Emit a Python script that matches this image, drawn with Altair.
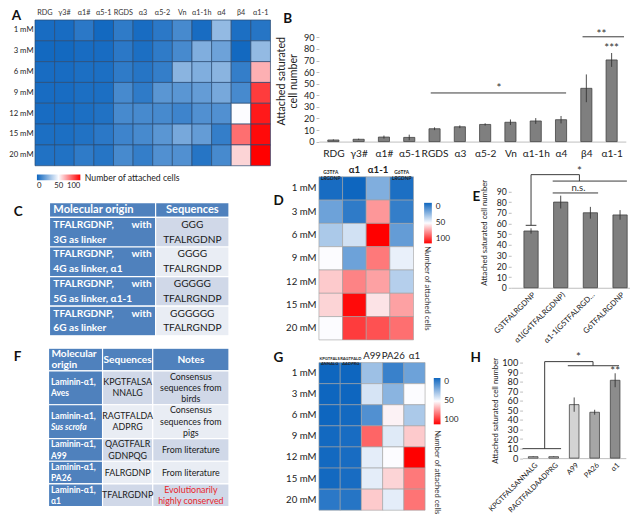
import altair as alt
import pandas as pd

K = 0.965
FONT = "Lato"


def s(v):
    return round(v * K, 2)


# ----------------------------------------------------------------- data
CONC = ["1 mM", "3 mM", "6 mM", "9 mM", "12 mM", "15 mM", "20 mM"]
LEGEND_TITLE = "Number of attached cells"
Y_TITLE = "Attached saturated cell number"

A_COLS = ["RDG", "γ3#", "α1#", "α5-1", "RGDS", "α3", "α5-2", "Vn", "α1-1h", "α4", "β4", "α1-1"]
A_VALUES = [
    [2, 2, 6, 1, 7, 2, 6, 12, 2, 28, 3, 5],
    [1, 1, 2, 2, 6, 3, 7, 12, 24, 20, 1, 28],
    [2, 2, 3, 3, 7, 5, 8, 26, 24, 26, 8, 65],
    [2, 2, 3, 3, 12, 7, 16, 16, 18, 22, 12, 88],
    [2, 2, 3, 4, 12, 12, 12, 10, 14, 14, 50, 95],
    [3, 3, 4, 6, 10, 12, 16, 22, 18, 8, 78, 98],
    [4, 4, 7, 5, 12, 8, 14, 14, 5, 12, 58, 100],
]

B_NAMES = ["RDG", "γ3#", "α1#", "α5-1", "RGDS", "α3", "α5-2", "Vn", "α1-1h", "α4", "β4", "α1-1"]
B_MEANS = [1.4, 2.0, 3.9, 3.6, 11.1, 12.8, 14.8, 16.7, 17.8, 18.9, 46.0, 70.5]
B_ERRS = [0.5, 0.5, 1.3, 2.4, 1.2, 1.2, 1.0, 2.4, 2.5, 3.2, 12.0, 6.0]
B_BRACKETS = [(3.85, 9.2, 42, 42), (9.85, 11.49, 90.5, 90.5)]
B_SIGNS = [(6.55, 48.2, "*"), (10.6, 94.7, "**"), (11.0, 82.2, "***")]

C_HEADER = ["Molecular origin", "Sequences"]
C_ORIGIN = [
    ("TFALRGDNP,", "with", "3G as linker"),
    ("TFALRGDNP,", "with", "4G as linker, α1"),
    ("TFALRGDNP,", "with", "5G as linker, α1-1"),
    ("TFALRGDNP,", "with", "6G as linker"),
]
C_SEQ = [["GGG", "TFALRGDNP"], ["GGGG", "TFALRGNDP"], ["GGGGG", "TFALRGNDP"], ["GGGGGG", "TFALRGNDP"]]

D_COLS = ["G3TFA LRGDNP", "α1", "α1-1", "G6TFA LRGDNP"]
D_VALUES = [
    [2, 0, 24, 3],
    [20, 7, 70, 8],
    [33, 41, 100, 18],
    [50, 20, 76, 46],
    [60, 74, 68, 35],
    [58, 98, 55, 68],
    [50, 88, 84, 78],
]

E_NAMES = ["G3TFALRGDNP", "α1(G4TFALRGDNP)", "α1-1(G5TFALRGDNP)", "G6TFALRGDNP"]
E_MEANS = [53, 80, 70, 68]
E_ERRS = [2.5, 6, 5.5, 4.5]
E_BRACKETS = [
    (-0.18, 0.18, 58.3, 58.3),
    (0, 0, 58.3, 105.6),
    (0, 1.63, 105.6, 105.6),
    (1.63, 1.63, 105.6, 99.6),
    (0.73, 3.23, 99.6, 99.6),
    (0.73, 2.26, 88.5, 88.5),
]
E_SIGNS = [(1.63, 111, "*"), (1.6, 93.6, "n.s.")]

F_HEADER = [["Molecular", "origin"], ["Sequences"], ["Notes"]]
F_ORIGIN = [["Laminin-α1,", "Aves"], ["Laminin-α1,", "Sus scrofa"], ["Laminin-α1,", "A99"],
            ["Laminin-α1,", "PA26"], ["Laminin-α1,", "α1"]]
F_SEQ = [["KPGTFALSA", "NNALG"], ["RAGTFALDA", "ADPRG"], ["QAGTFALR", "GDNPQG"], ["FALRGDNP"], ["TFALRGDNP"]]
F_NOTES = [["Consensus", "sequences from", "birds"], ["Consensus", "sequences from", "pigs"],
           ["From literature"], ["From literature"], ["Evolutionarily", "highly conserved"]]
F_ITALIC = ["Sus scrofa"]
F_HIGHLIGHT = [False, False, False, False, True]

G_COLS = ["KPGTFALS ANNALG", "RAGTFALD AADPRG", "A99", "PA26", "α1"]
G_VALUES = [
    [0, 0, 30, 9, 20],
    [0, 0, 42, 26, 50],
    [0, 1, 14, 52, 33],
    [1, 2, 80, 44, 60],
    [1, 2, 45, 50, 100],
    [1, 2, 45, 58, 76],
    [6, 5, 60, 45, 77],
]

H_NAMES = ["KPGTFALSANNALG", "RAGTFALDAADPRG", "A99", "PA26", "α1"]
H_MEANS = [1.5, 1.5, 56, 48, 81.5]
H_ERRS = [0.3, 0.3, 7.5, 2.6, 7.3]
H_BRACKETS = [
    (-0.52, 1.36, 9.9, 9.9),
    (0.56, 0.56, 9.9, 101),
    (0.56, 2.92, 101, 101),
    (2.92, 2.92, 101, 96.7),
    (1.69, 4.19, 96.7, 96.7),
]
H_SIGNS = [(2.21, 108, "*"), (4, 93.4, "**")]

# ----------------------------------------------------------------- styles
HEAT_BLUE, HEAT_WHITE, HEAT_RED = "#0E66BF", "#FCFCFF", "#FF0000"
HEAT_H = alt.Scale(domain=[0, 50, 100], range=[HEAT_BLUE, HEAT_WHITE, HEAT_RED], interpolate="rgb")
HEAT_V = alt.Scale(domain=[100, 50, 0], range=[HEAT_RED, HEAT_WHITE, HEAT_BLUE], interpolate="rgb")
TABLE_BLUE = "#4F81BD"
TABLE_ROWS = ["#D0D8E8", "#E9EDF4"]
BAR_GREY = "#7F7F7F"
H_FILLS = ["#BFBFBF", "#BFBFBF", "#D3D3D3", "#A6A6A6", "#8C8C8C"]
AXIS_GREY = "#BFBFBF"
INK = "#222222"


def letter(t, dx, dy):
    return alt.TitleParams(text=t, anchor="start", frame="group", orient="top", dx=s(dx), dy=s(dy),
                           offset=0, baseline="top", fontSize=s(14), fontWeight="bold",
                           color="#111111", font=FONT)


# ----------------------------------------------------------------- heatmaps
def heatmap(cols, values, w, h, stroke, sw, ylab, ypad, top_axis, scale, legend, title, extra=None):
    df = pd.DataFrame([{"row": r, "col": c, "v": values[i][j]}
                       for i, r in enumerate(CONC) for j, c in enumerate(cols)])
    rect = alt.Chart(df).mark_rect(stroke=stroke, strokeWidth=sw).encode(
        x=alt.X("col:N", sort=cols, title=None, axis=top_axis),
        y=alt.Y("row:N", sort=CONC, title=None,
                axis=alt.Axis(labelFontSize=s(ylab), labelColor=INK, labelPadding=s(ypad),
                              ticks=False, domain=False)),
        color=alt.Color("v:Q", scale=scale, legend=legend),
    )
    return alt.layer(rect, *(extra or [])).properties(width=s(w), height=s(h), title=title)


def vertical_title(x, y):
    return alt.Chart(pd.DataFrame({"t": [LEGEND_TITLE]})).mark_text(
        angle=90, align="left", baseline="middle", fontSize=s(8), color="#333333"
    ).encode(text="t:N", x=alt.value(s(x)), y=alt.value(s(y)))


def small_cols_axis(bold_big, small):
    test = "indexof(datum.value, ' ') >= 0"
    return alt.Axis(
        orient="top", labelAngle=0, labelExpr="split(datum.label, ' ')",
        labelFontSize={"condition": {"test": test, "value": s(small)}, "value": s(10)},
        labelFontWeight={"condition": {"test": test, "value": "bold"},
                         "value": "bold" if bold_big else "normal"},
        labelLineHeight=s(small + 0.6), labelPadding=s(2), ticks=False, domain=False,
        labelColor=INK,
    )


def vlegend(x, y, length, thick):
    return alt.Legend(orient="none", legendX=s(x), legendY=s(y), direction="vertical",
                      gradientLength=s(length), gradientThickness=s(thick), values=[0, 50, 100],
                      labelFontSize=s(8.5), labelColor=INK, title=None, labelOffset=s(4),
                      labelBaseline="middle", gradientStrokeWidth=0)


A = heatmap(
    A_COLS, A_VALUES, 244, 151, "#2A4B73", 0.7, 8, 2,
    alt.Axis(orient="top", labelAngle=0, labelFontSize=s(7.5), labelColor="#333333",
             ticks=False, domain=False, labelPadding=s(4)),
    HEAT_H,
    alt.Legend(orient="none", legendX=s(2), legendY=s(160), direction="horizontal",
               gradientLength=s(45), gradientThickness=s(6), values=[0, 50, 100],
               labelFontSize=s(8), labelColor=INK, title=LEGEND_TITLE, titleOrient="right",
               titleFontSize=s(9), titleFontWeight="normal", titleColor=INK, titleAnchor="start",
               titleBaseline="top", titlePadding=s(5), labelOffset=s(2), gradientStrokeWidth=0),
    letter("A", -24, 15),
)

D = heatmap(D_COLS, D_VALUES, 98, 169, "#A0A0A0", 0.6, 10, 3, small_cols_axis(True, 5), HEAT_V,
            vlegend(109, 27, 42, 8), letter("D", -47, 43.7), [vertical_title(112, 72)])

G = heatmap(G_COLS, G_VALUES, 110, 153, "#A0A0A0", 0.6, 10, 3, small_cols_axis(False, 4.3), HEAT_V,
            vlegend(119, 16, 48, 7), letter("G", -47, 14.7), [vertical_title(122, 70)])


# ----------------------------------------------------------------- bar charts
def bar_panel(names, means, errs, fills, xdom, ydom, yvals, w, h, half, ytitle, yt_size, yt_pad,
              ylab, xlab, xangle, xlimit, xpad, brackets, signs, title):
    n = len(names)
    df = pd.DataFrame({"i": list(range(n)), "v": means, "e": errs, "fill": fills})
    df["x0"] = df["i"] - half
    df["x1"] = df["i"] + half
    df["lo"] = df["v"] - df["e"]
    df["hi"] = df["v"] + df["e"]
    df["base"] = 0.0
    xs = alt.Scale(domain=xdom, nice=False, zero=False)
    ys = alt.Scale(domain=ydom, nice=False, zero=False)
    expr = "[" + ", ".join("'" + t + "'" for t in names) + "][datum.value]"
    xaxis = alt.Axis(values=list(range(n)), labelExpr=expr, grid=False, ticks=False,
                     domainColor=AXIS_GREY, labelColor=INK, labelFontSize=s(xlab), labelAngle=xangle,
                     labelPadding=s(xpad), labelFlush=False, labelOverlap=False, labelLimit=s(xlimit))
    yaxis = alt.Axis(values=yvals, grid=False, domain=False, tickColor=AXIS_GREY,
                     tickSize=s(3), labelColor=INK, labelFontSize=s(ylab), labelPadding=s(2),
                     labelFlush=False, labelOverlap=False, titleFontSize=s(yt_size),
                     titleFontWeight="normal", titleColor=INK, titlePadding=s(yt_pad))

    def X(field):
        return alt.X(field, scale=xs, axis=xaxis, title=None)

    def Y(field):
        return alt.Y(field, scale=ys, axis=yaxis, title=ytitle)

    bars = alt.Chart(df).mark_bar(stroke="#404040", strokeWidth=s(0.8)).encode(
        x=X("x0:Q"), x2="x1:Q", y=Y("v:Q"), y2="base:Q", fill=alt.Fill("fill:N", scale=None))
    err = alt.Chart(df).mark_rule(color="#333333", strokeWidth=s(0.9)).encode(
        x=X("i:Q"), y=Y("lo:Q"), y2="hi:Q")
    bdf = pd.DataFrame(brackets, columns=["x", "x2", "y", "y2"])
    br = alt.Chart(bdf).mark_rule(color="#333333", strokeWidth=s(1)).encode(
        x=X("x:Q"), x2="x2:Q", y=Y("y:Q"), y2="y2:Q")
    sdf = pd.DataFrame(signs, columns=["x", "y", "t"])
    stars = sdf[sdf["t"].str.startswith("*")]
    words = sdf[~sdf["t"].str.startswith("*")]
    layers = [bars, err, br]
    if len(stars):
        layers.append(alt.Chart(stars).mark_text(fontSize=s(12), color="#333333", baseline="middle",
                                                 dy=s(3)).encode(x=X("x:Q"), y=Y("y:Q"), text="t:N"))
    if len(words):
        layers.append(alt.Chart(words).mark_text(fontSize=s(10), color="#333333",
                                                 baseline="middle").encode(
            x=X("x:Q"), y=Y("y:Q"), text="t:N"))
    return alt.layer(*layers).properties(width=s(w), height=s(h), title=title)


B = bar_panel(B_NAMES, B_MEANS, B_ERRS, [BAR_GREY] * 12, [-0.57, 11.56], [0, 105],
              list(range(0, 91, 10)), 318, 126, 0.22, ["Attached saturated", "cell number"],
              11, 5, 9.5, 10.5, 0, 100, 7, B_BRACKETS, B_SIGNS, letter("B", -37, 5.2))

E = bar_panel(E_NAMES, E_MEANS, E_ERRS, [BAR_GREY] * 4, [-0.67, 3.33], [0, 103.6],
              list(range(0, 91, 10)), 123, 115, 0.24, Y_TITLE, 8, 8, 9, 8, -45, 76, 3,
              E_BRACKETS, E_SIGNS, letter("E", -40, 39.5))

H = bar_panel(H_NAMES, H_MEANS, H_ERRS, H_FILLS, [-0.52, 4.52], [0, 100],
              list(range(0, 101, 10)), 107, 99, 0.235, Y_TITLE, 8, 2, 9.5, 7.6, -45, 72, 3,
              H_BRACKETS, H_SIGNS, letter("H", -54, 13.2))


# ----------------------------------------------------------------- tables
def line_ys(top, row_lines, n):
    return [top + (row_lines - n) / 2 + i + 0.5 for i in range(n)]


def table_chart(cells, texts, xdom, total_lines, w, h, styles, title):
    xs = alt.Scale(domain=xdom, nice=False, zero=False)
    ys = alt.Scale(domain=[0, total_lines], nice=False, zero=False, reverse=True)
    rect = alt.Chart(cells).mark_rect(stroke="white", strokeWidth=s(1.2)).encode(
        x=alt.X("x0:Q", scale=xs, axis=None), x2="x1:Q",
        y=alt.Y("y0:Q", scale=ys, axis=None), y2="y1:Q",
        fill=alt.Fill("fill:N", scale=None))
    layers = [rect]
    for sty, kw in styles.items():
        sub = texts[texts["sty"] == sty]
        if len(sub) == 0:
            continue
        layers.append(alt.Chart(sub).mark_text(baseline="middle", **kw).encode(
            x=alt.X("x:Q", scale=xs, axis=None), y=alt.Y("y:Q", scale=ys, axis=None), text="t:N"))
    return alt.layer(*layers).properties(width=s(w), height=s(h), title=title)


def cum(vals):
    out = [0]
    for v in vals:
        out.append(out[-1] + v)
    return out


# table C
C_COL_W = [110, 76]
C_ROW_LINES = [1, 2, 2, 2, 2]
cx = cum(C_COL_W)
cy = cum(C_ROW_LINES)
c_cells, c_texts = [], []
for r in range(len(C_ROW_LINES)):
    for c in range(2):
        fill = TABLE_BLUE if (r == 0 or c == 0) else TABLE_ROWS[(r - 1) % 2]
        c_cells.append({"x0": cx[c], "x1": cx[c + 1], "y0": cy[r], "y1": cy[r + 1], "fill": fill})
c_texts.append({"x": cx[0], "y": line_ys(0, 1, 1)[0], "t": C_HEADER[0], "sty": "hl"})
c_texts.append({"x": (cx[1] + cx[2]) / 2, "y": line_ys(0, 1, 1)[0], "t": C_HEADER[1], "sty": "hc"})
for k, (a, b, second) in enumerate(C_ORIGIN):
    ys_ = line_ys(cy[k + 1], 2, 2)
    c_texts.append({"x": cx[0], "y": ys_[0], "t": a, "sty": "bl"})
    c_texts.append({"x": cx[1], "y": ys_[0], "t": b, "sty": "br"})
    c_texts.append({"x": cx[0], "y": ys_[1], "t": second, "sty": "bl"})
    for i, line in enumerate(C_SEQ[k]):
        c_texts.append({"x": (cx[1] + cx[2]) / 2, "y": line_ys(cy[k + 1], 2, len(C_SEQ[k]))[i],
                        "t": line, "sty": "bc"})
C_STYLES = {
    "hl": dict(align="left", dx=s(4), fontWeight="bold", fontSize=s(11.5), color="white"),
    "hc": dict(align="center", fontWeight="bold", fontSize=s(11.5), color="white"),
    "bl": dict(align="left", dx=s(4), fontWeight="bold", fontSize=s(10.5), color="white"),
    "br": dict(align="right", dx=-s(4), fontWeight="bold", fontSize=s(10.5), color="white"),
    "bc": dict(align="center", fontSize=s(10.5), color="#1A1A1A"),
}
C = table_chart(pd.DataFrame(c_cells), pd.DataFrame(c_texts), [-15, cx[-1]], cy[-1], 201, 138,
                C_STYLES, letter("C", -22, 17.2))

# table F
F_COL_W = [56, 52, 79]
F_ROW_LINES = [2, 3, 3, 2, 2, 2]
fx = cum(F_COL_W)
fy = cum(F_ROW_LINES)
f_cells, f_texts = [], []
for r in range(len(F_ROW_LINES)):
    for c in range(3):
        fill = TABLE_BLUE if (r == 0 or c == 0) else TABLE_ROWS[(r - 1) % 2]
        f_cells.append({"x0": fx[c], "x1": fx[c + 1], "y0": fy[r], "y1": fy[r + 1], "fill": fill})
for c, lines in enumerate(F_HEADER):
    ys_ = line_ys(0, F_ROW_LINES[0], len(lines))
    for i, line in enumerate(lines):
        if c == 0:
            f_texts.append({"x": fx[0], "y": ys_[i], "t": line, "sty": "hl"})
        else:
            f_texts.append({"x": (fx[c] + fx[c + 1]) / 2, "y": ys_[i], "t": line, "sty": "hc"})
for k in range(len(F_ORIGIN)):
    top, L = fy[k + 1], F_ROW_LINES[k + 1]
    for i, line in enumerate(F_ORIGIN[k]):
        f_texts.append({"x": fx[0], "y": line_ys(top, L, len(F_ORIGIN[k]))[i], "t": line,
                        "sty": "bli" if line in F_ITALIC else "bl"})
    for i, line in enumerate(F_SEQ[k]):
        f_texts.append({"x": (fx[1] + fx[2]) / 2, "y": line_ys(top, L, len(F_SEQ[k]))[i],
                        "t": line, "sty": "bc"})
    for i, line in enumerate(F_NOTES[k]):
        f_texts.append({"x": (fx[2] + fx[3]) / 2, "y": line_ys(top, L, len(F_NOTES[k]))[i],
                        "t": line, "sty": "bcr" if F_HIGHLIGHT[k] else "bc"})
F_STYLES = {
    "hl": dict(align="left", dx=s(3), fontWeight="bold", fontSize=s(10.5), color="white"),
    "hc": dict(align="center", fontWeight="bold", fontSize=s(10.5), color="white"),
    "bl": dict(align="left", dx=s(2.5), fontWeight="bold", fontSize=s(8.8), color="white"),
    "bli": dict(align="left", dx=s(2.5), fontWeight="bold", fontStyle="italic", fontSize=s(8.8),
                color="white"),
    "bc": dict(align="center", fontSize=s(9.2), color="#1A1A1A"),
    "bcr": dict(align="center", fontSize=s(9.2), color="#E8262B"),
}
F = table_chart(pd.DataFrame(f_cells), pd.DataFrame(f_texts), [-14, fx[-1]], fy[-1], 201, 164,
                F_STYLES, letter("F", -22, 16.2))

# ----------------------------------------------------------------- layout
left = alt.vconcat(A, C, F, spacing=s(11)).resolve_scale(color="independent")
DE = alt.hconcat(D, E, spacing=s(22)).resolve_scale(color="independent")
GH = alt.hconcat(G, H, spacing=s(11)).resolve_scale(color="independent")
right = alt.vconcat(B, DE, GH, spacing=s(6)).resolve_scale(color="independent")
chart = (
    alt.hconcat(left, right, spacing=s(2))
    .resolve_scale(color="independent")
    .properties(padding=0)
    .configure(font=FONT)
    .configure_view(stroke=None)
)
chart.save("out.html", embed_options={"renderer": "svg", "actions": False})
